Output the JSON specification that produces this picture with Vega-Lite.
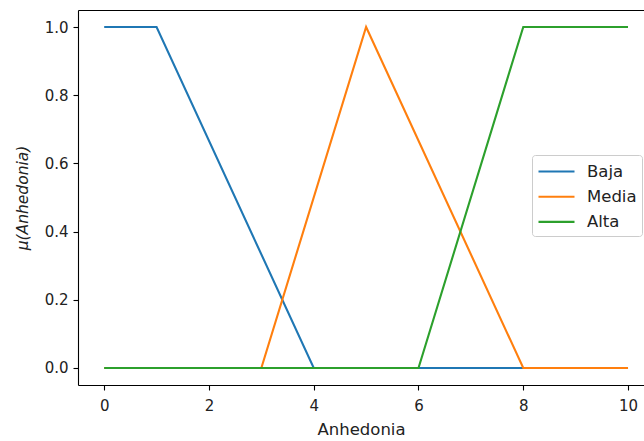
{
  "$schema": "https://vega.github.io/schema/vega-lite/v6.json",
  "autosize": "none",
  "width": 566,
  "height": 375,
  "padding": {"left": 78, "top": 10, "right": 0, "bottom": 56},
  "background": "white",
  "config": {
    "view": {"stroke": null},
    "font": "DejaVu Sans",
    "axis": {
      "grid": false,
      "domainColor": "black",
      "domainWidth": 1.1,
      "tickColor": "black",
      "tickWidth": 1.1,
      "tickSize": 5,
      "labelPadding": 5,
      "labelFont": "DejaVu Sans",
      "labelFontSize": 15,
      "labelColor": "#222",
      "titleFont": "DejaVu Sans",
      "titleFontSize": 16.5,
      "titleFontWeight": "normal",
      "titleColor": "#222"
    }
  },
  "data": {
    "values": [
      {"x": 0, "mu": 1, "set": "Baja"},
      {"x": 1, "mu": 1, "set": "Baja"},
      {"x": 4, "mu": 0, "set": "Baja"},
      {"x": 10, "mu": 0, "set": "Baja"},
      {"x": 0, "mu": 0, "set": "Media"},
      {"x": 3, "mu": 0, "set": "Media"},
      {"x": 5, "mu": 1, "set": "Media"},
      {"x": 8, "mu": 0, "set": "Media"},
      {"x": 10, "mu": 0, "set": "Media"},
      {"x": 0, "mu": 0, "set": "Alta"},
      {"x": 6, "mu": 0, "set": "Alta"},
      {"x": 8, "mu": 1, "set": "Alta"},
      {"x": 10, "mu": 1, "set": "Alta"}
    ]
  },
  "layer": [
    {
      "mark": {"type": "line", "strokeWidth": 2.1, "clip": true},
      "encoding": {
        "x": {
          "field": "x", "type": "quantitative",
          "scale": {"domain": [-0.5, 10.305], "nice": false, "zero": false},
          "axis": {"values": [0, 2, 4, 6, 8, 10], "format": "d", "title": "Anhedonia", "labelPadding": 8, "titlePadding": 8}
        },
        "y": {
          "field": "mu", "type": "quantitative",
          "scale": {"domain": [-0.05, 1.05], "nice": false, "zero": false},
          "axis": {"values": [0, 0.2, 0.4, 0.6, 0.8, 1.0], "format": ".1f", "title": "μ(Anhedonia)", "titleFontStyle": "italic", "titleFontSize": 15.5, "titlePadding": 14}
        },
        "color": {
          "field": "set", "type": "nominal",
          "scale": {"domain": ["Baja", "Media", "Alta"], "range": ["#1f77b4", "#ff7f0e", "#2ca02c"]},
          "legend": {
            "title": null,
            "orient": "none",
            "legendX": 454,
            "legendY": 145,
            "symbolType": "M-1.8,0H1.8",
            "symbolSize": 400,
            "symbolStrokeWidth": 2.1,
            "symbolOffset": 8,
            "labelFont": "DejaVu Sans",
            "labelFontSize": 16.5,
            "labelColor": "#222",
            "labelOffset": 19,
            "rowPadding": 5.2,
            "padding": 5,
            "fillColor": "white",
            "strokeColor": "#cccccc",
            "cornerRadius": 3
          }
        },
        "order": {"field": "x", "type": "quantitative"}
      }
    },
    {
      "mark": {"type": "line", "opacity": 0},
      "encoding": {
        "x": {
          "field": "x", "type": "quantitative",
          "axis": {"orient": "top", "labels": false, "ticks": false, "title": null, "domain": true}
        },
        "y": {"field": "mu", "type": "quantitative"},
        "detail": {"field": "set"}
      }
    }
  ],
  "resolve": {"axis": {"x": "independent"}}
}
